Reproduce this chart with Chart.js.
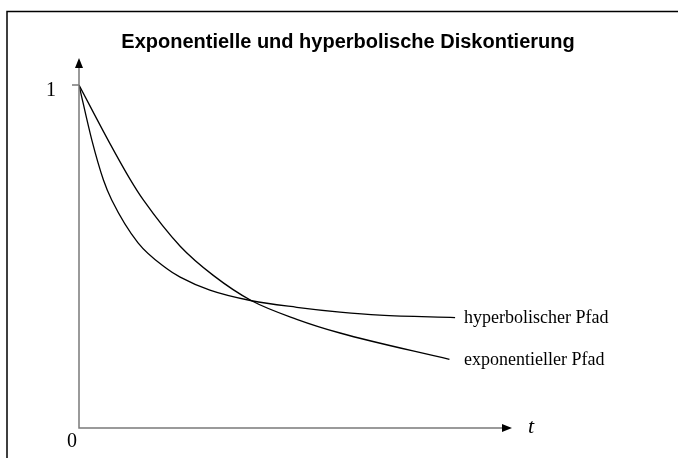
<!DOCTYPE html>
<html>
<head>
<meta charset="utf-8">
<script src="https://cdn.jsdelivr.net/npm/chart.js@4.4.0/dist/chart.umd.min.js"></script>
<style>
  html, body { margin: 0; padding: 0; background: #fff; }
  #wrap { width: 678px; height: 458px; position: relative; }
</style>
</head>
<body>
<div id="wrap"><canvas id="chart"></canvas></div>
<script>
// values (t in arbitrary units, 0..10)
const hypT = [0, 0.34, 0.65, 0.87, 1.57, 2.33, 2.69, 3.48, 4.59, 5.79, 6.94, 8.0, 10];
const hypV = [1, 0.84, 0.723, 0.665, 0.54, 0.465, 0.44, 0.402, 0.371, 0.352, 0.338, 0.329, 0.322];
const expT = [0, 0.82, 1.36, 1.71, 2.69, 3.57, 4.59, 5.79, 6.94, 9.85];
const expV = [1, 0.83, 0.725, 0.665, 0.53, 0.445, 0.371, 0.317, 0.277, 0.2];
const seriesLabels = ["hyperbolischer Pfad", "exponentieller Pfad"];
const yTicks = [0, 1];
const titleText = "Exponentielle und hyperbolische Diskontierung";

const toPoints = (ts, vs) => ts.map((t, i) => ({ x: t, y: vs[i] }));

const axisColor = "#7a7a7a";

const decor = {
  id: "decor",
  afterDraw(chart) {
    const ctx = chart.ctx;
    const xs = chart.scales.x, ys = chart.scales.y;
    const x0 = xs.getPixelForValue(0), y0 = ys.getPixelForValue(0);
    const y1 = ys.getPixelForValue(1);
    const right = chart.chartArea.right, top = chart.chartArea.top;
    ctx.save();

    // frame
    ctx.strokeStyle = "#000";
    ctx.lineWidth = 1.5;
    ctx.beginPath();
    ctx.moveTo(7, 458);
    ctx.lineTo(7, 11.5);
    ctx.lineTo(678, 11.5);
    ctx.stroke();

    // title
    ctx.fillStyle = "#000";
    ctx.font = "bold 20px 'Liberation Sans', Arial, sans-serif";
    ctx.textAlign = "center";
    ctx.textBaseline = "alphabetic";
    ctx.fillText(titleText, 348, 48);

    // axes
    ctx.strokeStyle = axisColor;
    ctx.lineWidth = 1.5;
    ctx.beginPath();
    ctx.moveTo(x0, top + 6);
    ctx.lineTo(x0, y0);
    ctx.lineTo(right - 6, y0);
    // tick at 1
    ctx.moveTo(x0 - 7, y1);
    ctx.lineTo(x0, y1);
    ctx.stroke();

    ctx.fillStyle = "#000";
    ctx.beginPath();
    ctx.moveTo(x0, top - 2);
    ctx.lineTo(x0 - 4, top + 8);
    ctx.lineTo(x0 + 4, top + 8);
    ctx.closePath();
    ctx.fill();
    ctx.beginPath();
    ctx.moveTo(right + 2, y0);
    ctx.lineTo(right - 8, y0 - 4);
    ctx.lineTo(right - 8, y0 + 4);
    ctx.closePath();
    ctx.fill();

    // axis labels
    ctx.font = "20px 'Liberation Serif', 'Times New Roman', serif";
    ctx.textBaseline = "middle";
    ctx.textAlign = "right";
    ctx.fillText(String(yTicks[1]), x0 - 23, ys.getPixelForValue(yTicks[1]) + 6);
    ctx.textAlign = "center";
    ctx.fillText(String(yTicks[0]), x0 - 7, y0 + 14);
    ctx.font = "italic 22px 'Liberation Serif', 'Times New Roman', serif";
    ctx.textAlign = "left";
    ctx.fillText("t", right + 18, y0 - 1);

    // series labels
    ctx.font = "18px 'Liberation Serif', 'Times New Roman', serif";
    ctx.textAlign = "left";
    ctx.fillText(seriesLabels[0], xs.getPixelForValue(10) + 9, ys.getPixelForValue(hypV[hypV.length - 1]) + 1);
    ctx.fillText(seriesLabels[1], xs.getPixelForValue(10) + 9, ys.getPixelForValue(expV[expV.length - 1]) + 1);
    ctx.restore();
  }
};

new Chart(document.getElementById("chart"), {
  type: "line",
  data: {
    datasets: [
      {
        label: seriesLabels[0],
        data: toPoints(hypT, hypV),
        borderColor: "#000",
        borderWidth: 1.3,
        pointRadius: 0,
        cubicInterpolationMode: "monotone",
        fill: false
      },
      {
        label: seriesLabels[1],
        data: toPoints(expT, expV),
        borderColor: "#000",
        borderWidth: 1.3,
        pointRadius: 0,
        cubicInterpolationMode: "monotone",
        fill: false
      }
    ]
  },
  options: {
    responsive: true,
    maintainAspectRatio: false,
    animation: false,
    layout: { padding: { left: 79, right: 168, top: 60, bottom: 30 } },
    plugins: {
      legend: { display: false },
      tooltip: { enabled: false },
      title: { display: false }
    },
    scales: {
      x: { type: "linear", min: 0, max: 11.46, display: false },
      y: { type: "linear", min: 0, max: 1.073, display: false }
    }
  },
  plugins: [decor]
});
</script>
</body>
</html>
